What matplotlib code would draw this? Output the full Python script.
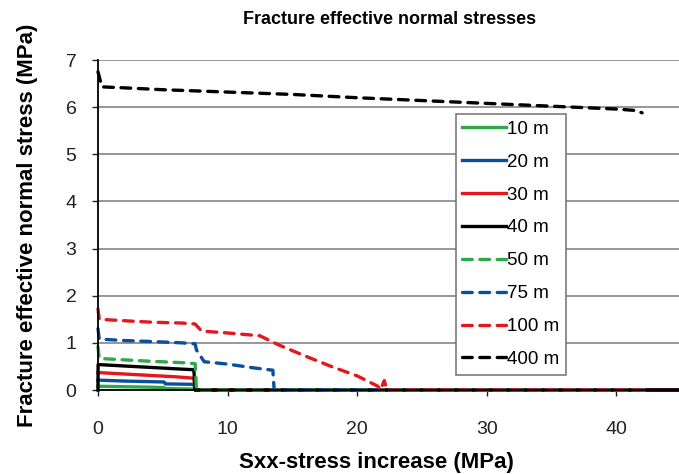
import numpy as np
import matplotlib.pyplot as plt

plt.rcParams['font.family'] = ['Liberation Sans', 'DejaVu Sans']
plt.rcParams['lines.scale_dashes'] = False

# Stress increase (MPa) and effective normal stress (MPa) for each fracture spacing
x_10 = [0, 2, 4, 5.1, 5.2, 7.4, 7.5, 45]
y_10 = [0.08, 0.07, 0.06, 0.05, 0.03, 0.02, 0, 0]

x_20 = [0, 2, 5.1, 5.2, 7.4, 7.5, 45]
y_20 = [0.21, 0.19, 0.17, 0.13, 0.12, 0, 0]

x_30 = [0, 2, 4, 6, 7.4, 7.5, 45]
y_30 = [0.37, 0.34, 0.31, 0.28, 0.25, 0, 0]

x_40 = [0, 0.01, 2, 4, 6, 7.4, 7.5, 45]
y_40 = [0, 0.54, 0.51, 0.48, 0.45, 0.43, 0, 0]

x_50 = [0, 0.1, 2, 4, 6.5, 7.5, 7.6, 42.2]
y_50 = [0.92, 0.67, 0.64, 0.61, 0.58, 0.56, 0, 0]

x_75 = [0, 0.1, 2, 4, 6.5, 7.5, 7.6, 8.2, 10, 12, 13.5, 13.6, 42.2]
y_75 = [1.3, 1.08, 1.05, 1.03, 1.0, 0.98, 0.85, 0.6, 0.55, 0.47, 0.42, 0, 0]

x_100 = [0, 0.1, 2, 4, 6.5, 7.5, 8, 10, 12.5, 14, 16, 18, 20, 21.6, 21.8, 22.1, 22.3, 42.2]
y_100 = [1.72, 1.5, 1.47, 1.44, 1.42, 1.4, 1.25, 1.21, 1.15, 0.95, 0.72, 0.5, 0.3, 0.08, 0, 0.2, 0, 0]

x_400 = [0, 0.3, 2, 5, 10, 15, 20, 25, 30, 35, 40, 41.5, 42]
y_400 = [6.75, 6.43, 6.41, 6.37, 6.32, 6.27, 6.2, 6.14, 6.08, 6.02, 5.96, 5.93, 5.88]

labels = ['10 m', '20 m', '30 m', '40 m', '50 m', '75 m', '100 m', '400 m']

green = '#2ea84a'
blue = '#0a4f9c'
red = '#e5161d'
black = '#000000'

fig = plt.figure(figsize=(6.79, 4.74), dpi=100)
ax = fig.add_axes([0.1443, 0.1772, 0.8586, 0.6962])

series = [
    (x_10, y_10, green, '-'),
    (x_20, y_20, blue, '-'),
    (x_30, y_30, red, '-'),
    (x_40, y_40, black, '-'),
    (x_50, y_50, green, '--'),
    (x_75, y_75, blue, '--'),
    (x_100, y_100, red, '--'),
    (x_400, y_400, black, '--'),
]

dash = (7, 5.5)
for (xs, ys, c, ls), lab in zip(series, labels):
    if ls == '--':
        ax.plot(xs, ys, color=c, lw=2.4, dashes=dash, label=lab,
                dash_capstyle='round', clip_on=False)
    else:
        ax.plot(xs, ys, color=c, lw=2.4, label=lab, clip_on=False)

ax.set_xlim(0, 45)
ax.set_ylim(0, 7)
ax.set_xticks([0, 10, 20, 30, 40])
ax.set_yticks(range(8))
ax.yaxis.grid(True, color='#7a7a7a', lw=1.1)
ax.set_axisbelow(True)

for s in ['top', 'right']:
    ax.spines[s].set_visible(False)
ax.spines['left'].set_linewidth(1.3)
ax.spines['bottom'].set_linewidth(1.3)
ax.tick_params(axis='both', direction='out', length=4.5, width=1,
               labelsize=14, colors='#222222')
ax.tick_params(axis='y', pad=11)
ax.tick_params(axis='x', pad=18)

ax.set_title('Fracture effective normal stresses', fontsize=13,
             fontweight='bold', pad=26)
ax.set_xlabel('Sxx-stress increase (MPa)', fontsize=16, fontweight='bold',
              labelpad=10)
ax.xaxis.label.set_x(0.477)
ax.set_ylabel('Fracture effective normal stress (MPa)', fontsize=16,
              fontweight='bold', labelpad=20)

leg = ax.legend(loc='upper left', bbox_to_anchor=(0.614, 0.836),
                fontsize=13.5, handlelength=2.3, handletextpad=0.1,
                labelspacing=0.84, borderpad=0.35, fancybox=False,
                framealpha=1, edgecolor='#707070', borderaxespad=0)
leg.get_frame().set_linewidth(1.1)

fig.savefig('out.png', dpi=100)
